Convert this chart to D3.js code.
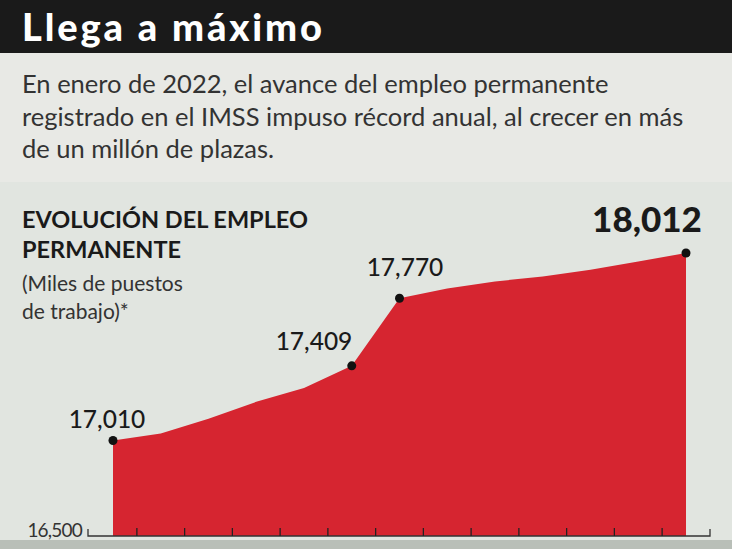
<!DOCTYPE html>
<html><head><meta charset="utf-8">
<script src="https://cdn.jsdelivr.net/npm/d3@7"></script>
<style>body{margin:0}svg{display:block}</style></head>
<body><script>
const months = ["Ene-21","Feb","Mar","Abr","May","Jun","Jul","Ago","Sep","Oct","Nov","Dic","Ene-22"];
const values = [17010,17047,17127,17217,17291,17409,17770,17822,17860,17886,17923,17966,18012];
const labelled = [0,5,6,12];
const yMin = 16500;

const W=732,H=549;
const svg=d3.select("body").append("svg").attr("width",W).attr("height",H);
const F="Lato, 'Open Sans', sans-serif";
svg.append("rect").attr("width",W).attr("height",H).attr("fill","#e4e6e2");
svg.append("rect").attr("width",W).attr("height",53).attr("fill","#1a1a1a");
svg.append("rect").attr("y",53).attr("width",W).attr("height",129).attr("fill","#e8e9e5");
svg.append("rect").attr("y",182).attr("width",W).attr("height",358).attr("fill","#e1e5e0");
svg.append("rect").attr("y",540).attr("width",W).attr("height",9).attr("fill","#b9bfb8");
svg.append("text").attr("x",22).attr("y",41).text("Llega a máximo").attr("fill","#fff")
  .attr("font-family",F).attr("font-weight",900).attr("font-size",38).attr("textLength",300);
["En enero de 2022, el avance del empleo permanente","registrado en el IMSS impuso récord anual, al crecer en más","de un millón de plazas."]
 .forEach((t,i)=>svg.append("text").attr("x",22).attr("y",93+i*32.5).text(t).attr("fill","#333")
  .attr("font-family",F).attr("font-size",25.5));
["EVOLUCIÓN DEL EMPLEO","PERMANENTE"].forEach((t,i)=>svg.append("text").attr("x",22).attr("y",228+i*30).text(t)
  .attr("fill","#1a1a1a").attr("font-family",F).attr("font-weight",700).attr("font-size",23.5));
["(Miles de puestos","de trabajo)*"].forEach((t,i)=>svg.append("text").attr("x",22).attr("y",291+i*28).text(t)
  .attr("fill","#333").attr("font-family",F).attr("font-size",21));

const x=d3.scaleLinear().domain([0,months.length-1]).range([113,686]);
const y=d3.scaleLinear().domain([yMin,18012]).range([536,253]);
svg.append("path").datum(values).attr("fill","#d62530")
  .attr("d",d3.area().x((d,i)=>x(i)).y0(y(yMin)).y1(d=>y(d)));
const step=x(1)-x(0);
svg.append("path").attr("fill","none").attr("stroke","#333").attr("stroke-width",1.3)
  .attr("d",`M88,529V536H710V529`);
d3.range(months.length-1).forEach(i=>{
  svg.append("line").attr("x1",x(i)+step/2).attr("x2",x(i)+step/2).attr("y1",528).attr("y2",536)
   .attr("stroke","#222").attr("stroke-width",1.3);
});
svg.append("text").attr("x",82).attr("y",537).attr("text-anchor","end").text(d3.format(",")(yMin))
  .attr("fill","#333").attr("font-family",F).attr("font-size",19).attr("letter-spacing",-0.8);
const fmt=d3.format(",");
const lx={0:[107,428],5:[314,350],6:[405,276],12:[647,232]};
labelled.forEach(i=>{
  svg.append("circle").attr("cx",x(i)).attr("cy",y(values[i])).attr("r",4.5).attr("fill","#111");
  const last=i===values.length-1;
  svg.append("text").attr("x",lx[i][0]).attr("y",lx[i][1]).attr("text-anchor","middle").text(fmt(values[i]))
   .attr("fill","#1a1a1a").attr("font-family",F).attr("font-weight",last?900:500)
   .attr("font-size",last?35:24.5);
});
</script></body></html>
